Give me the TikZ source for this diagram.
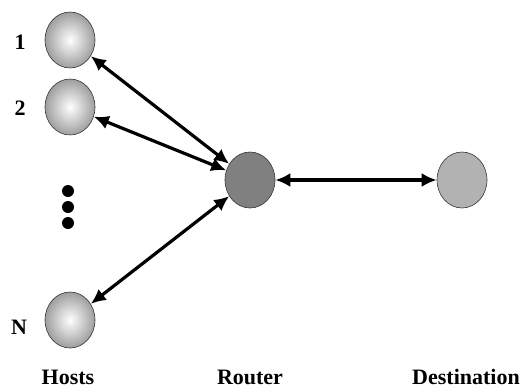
\documentclass[tikz,border=0pt]{standalone}
\usepackage{fontspec}
\setmainfont{Liberation Serif}
\usetikzlibrary{shapes.geometric,arrows.meta}
\begin{document}
\begin{tikzpicture}[x=1pt,y=-1pt,
  host/.style={ellipse,draw=black!80,line width=0.6pt,minimum width=50pt,minimum height=56pt,inner sep=0pt,
    inner color=white,outer color=black!38},
  router/.style={ellipse,draw=black!80,line width=0.6pt,minimum width=50pt,minimum height=56pt,inner sep=0pt,fill=black!50},
  dest/.style={ellipse,draw=black!80,line width=0.6pt,minimum width=50pt,minimum height=56pt,inner sep=0pt,fill=black!30},
  lbl/.style={font=\bfseries\fontsize{22}{26}\selectfont,inner sep=0pt},
  link/.style={line width=3.2pt,{Latex[length=15pt,width=14pt]}-{Latex[length=15pt,width=14pt]}},
  dot/.style={circle,fill=black,minimum size=12pt,inner sep=0pt}]
\useasboundingbox (0,0) rectangle (521,391);
\node[host] (h1) at (70,40) {};
\node[host] (h2) at (70,107) {};
\node[host] (hn) at (70,320) {};
\node[router] (r) at (250,180) {};
\node[dest] (d) at (462,180) {};
\node[dot] (d1) at (68,191) {};
\node[dot] (d2) at (68,207) {};
\node[dot] (d3) at (68,223) {};
\node[lbl] (l1) at (20,42) {1};
\node[lbl] (l2) at (20,108) {2};
\node[lbl] (ln) at (19,327) {N};
\node[lbl] (lh) at (68,377) {Hosts};
\node[lbl] (lr) at (250,377) {Router};
\node[lbl] (ld) at (466,377) {Destination};
\draw[link] (h1) -- (r);
\draw[link] (h2) -- (r);
\draw[link] (hn) -- (r);
\draw[link] (r) -- (d);
\end{tikzpicture}
\end{document}
